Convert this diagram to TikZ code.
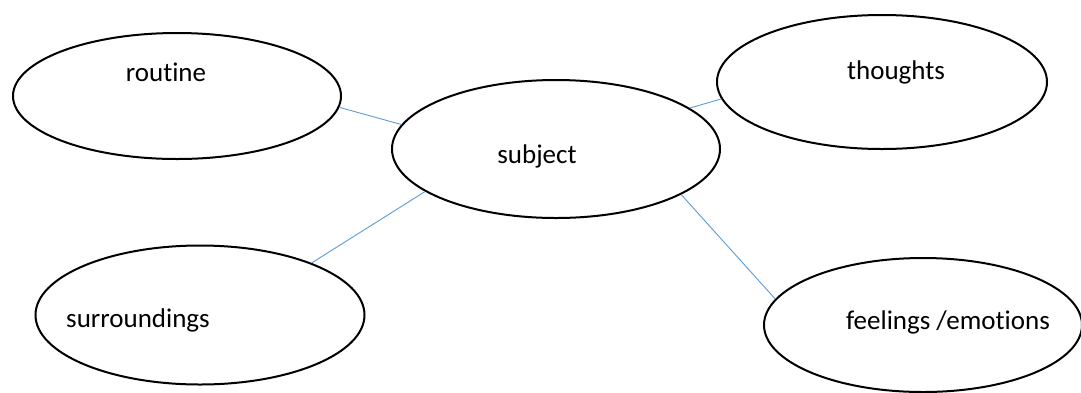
\documentclass[tikz,border=0pt]{standalone}
\usepackage{fontspec}
\setmainfont{Carlito}[Ligatures=NoCommon]
\usetikzlibrary{shapes.geometric}
\definecolor{linkblue}{HTML}{5B9BD5}

\begin{document}
\begin{tikzpicture}[x=1pt, y=-1pt, semithick,
    font=\fontsize{27}{32}\selectfont,
    bubble/.style={ellipse, draw, line width=2pt, inner sep=0pt},
    link/.style={draw=linkblue, line width=0.9pt}]
    \useasboundingbox (0,0) rectangle (1081,392);
    % bubbles
    \node[bubble, minimum width=328, minimum height=126,
          label={[shift={(-11,-24)}]center:routine}] (routine) at (177,96) {};
    \node[bubble, minimum width=328, minimum height=138,
          label={[shift={(-19,7)}]center:subject}] (subject) at (556,149) {};
    \node[bubble, minimum width=330, minimum height=134,
          label={[shift={(14,-10)}]center:thoughts}] (thoughts) at (882,82) {};
    \node[bubble, minimum width=329, minimum height=139,
          label={[shift={(-62,5)}]center:surroundings}] (surround) at (200,315) {};
    \node[bubble, minimum width=318, minimum height=134,
          label={[shift={(25,-3)}]center:feelings /emotions}] (feelings) at (923,325) {};

    % links to the subject
    \draw[link] (routine.-4) -- (subject.171);
    \draw[link] (subject.17) -- (thoughts.186);
    \draw[link] (surround.25) -- (subject.198);
    \draw[link] (subject.-20) -- (feelings.170);
\end{tikzpicture}
\end{document}
